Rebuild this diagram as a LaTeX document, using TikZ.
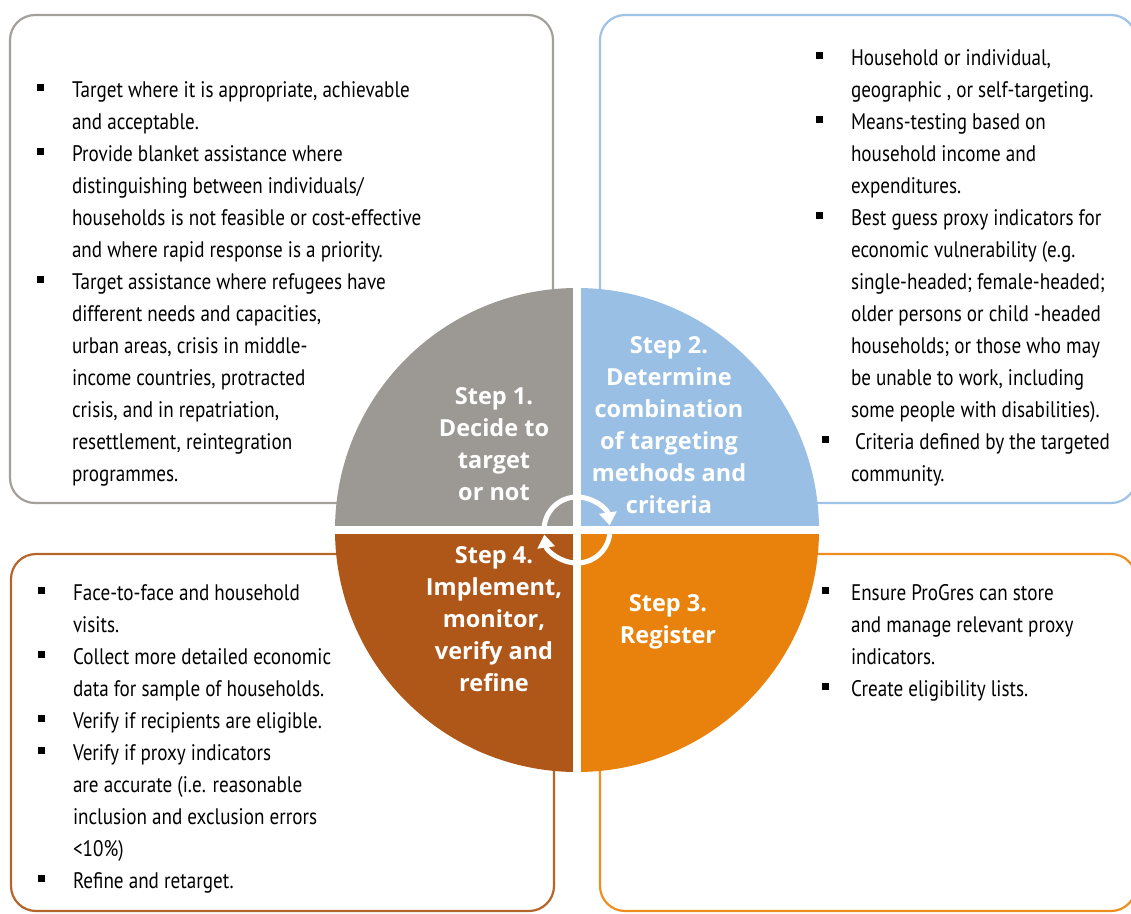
\documentclass[tikz,border=0pt]{standalone}
\usepackage{fontspec}
\setmainfont{PT Sans}
\newfontfamily\bodyfnt{PT Sans}[FakeStretch=0.85]
\newfontfamily\stepfnt{Open Sans}
\usetikzlibrary{arrows.meta}
\definecolor{qgray}{HTML}{9C9994}
\definecolor{qblue}{HTML}{99C0E4}
\definecolor{qorange}{HTML}{E8820C}
\definecolor{qbrown}{HTML}{AF5619}
\definecolor{lgray}{HTML}{A3A09B}
\definecolor{lblue}{HTML}{9DC3E6}
\definecolor{lorange}{HTML}{EE8E1E}
\definecolor{lbrown}{HTML}{B5652A}
\newcommand\bsq[1]{\leavevmode\llap{\rule[6.5pt]{7pt}{7pt}\hspace{#1}}}
\newcommand\bodylines[1]{\begin{minipage}[t]{480pt}\bodyfnt\fontsize{22.5}{32}\selectfont\raggedright\noindent #1\end{minipage}}
\newcommand\steplines[1]{\begin{minipage}[t]{220pt}\stepfnt\bfseries\fontsize{23.5}{32}\selectfont\centering #1\end{minipage}}
\tikzset{
  infobox/.style={line width=2.2pt, rounded corners=25pt},
  txt/.style={anchor=base west, inner sep=0pt, outer sep=0pt},
  steptxt/.style={anchor=base, inner sep=0pt, outer sep=0pt, text=white},
  cycarrow/.style={white, line width=5pt, -{Triangle[length=13pt,width=17pt]}}
}
\begin{document}
\begin{tikzpicture}[x=1pt,y=-1pt]
\useasboundingbox (0,0) rectangle (1131,913);
% boxes
\draw[infobox, lgray] (10,15) rectangle (553,503);
\draw[infobox, lblue] (600,15) rectangle (1136,503);
\draw[infobox, lbrown] (11,554) rectangle (554,911);
\draw[infobox, lorange] (600,554) rectangle (1136,911);
% circle quadrants
\coordinate (c) at (577,530);
\begin{scope}\clip (300,250) rectangle (577,530); \fill[qgray] (c) circle[radius=242pt]; \end{scope}
\begin{scope}\clip (577,250) rectangle (860,530); \fill[qblue] (c) circle[radius=242pt]; \end{scope}
\begin{scope}\clip (577,530) rectangle (860,800); \fill[qorange] (c) circle[radius=242pt]; \end{scope}
\begin{scope}\clip (300,530) rectangle (577,800); \fill[qbrown] (c) circle[radius=242pt]; \end{scope}
\draw[white, line width=8pt] (577,280) -- (577,780);
\draw[white, line width=8pt] (325,530) -- (830,530);
% cycle arrows
\draw[cycarrow] (c) ++(180:33pt) arc[start angle=180, end angle=8, radius=33pt];
\draw[cycarrow] (c) ++(0:33pt) arc[start angle=0, end angle=-172, radius=33pt];
% step labels
\node[steptxt] (s1) at (494,404) {\steplines{Step 1.\\Decide to\\target\\or not}};
\node[steptxt] (s2) at (669,353) {\steplines{Step 2.\\Determine\\combination\\of targeting\\methods and\\criteria}};
\node[steptxt] (s3) at (668,611) {\steplines{Step 3.\\Register}};
\node[steptxt] (s4) at (494,563) {\steplines{Step 4.\\Implement,\\monitor,\\verify and\\refine}};
% texts
\node[txt] (tl) at (72,97) {\bodylines{%
\bsq{28pt}Target where it is appropriate, achievable\\
and acceptable.\\
\bsq{28pt}Provide blanket assistance where\\
distinguishing between individuals/\\
households is not feasible or cost-effective\\
and where rapid response is a priority.\\
\bsq{28pt}Target assistance where refugees have\\
different needs and capacities,\\
urban areas, crisis in middle-\\
income countries, protracted\\
crisis, and in repatriation,\\
resettlement, reintegration\\
programmes.}};
\node[txt] (tr) at (851,65) {\bodylines{%
\bsq{28pt}Household or individual,\\
geographic , or self-targeting.\\
\bsq{28pt}Means-testing based on\\
household income and\\
expenditures.\\
\bsq{28pt}Best guess proxy indicators for\\
economic vulnerability (e.g.\\
single-headed; female-headed;\\
older persons or child -headed\\
households; or those who may\\
be unable to work, including\\
some people with disabilities).\\
\bsq{22pt}\hspace{4pt}Criteria defined by the targeted\\
community.}};
\node[txt] (bl) at (73,600) {\bodylines{%
\bsq{28pt}Face-to-face and household\\
visits.\\
\bsq{28pt}Collect more detailed economic\\
data for sample of households.\\
\bsq{28pt}Verify if recipients are eligible.\\
\bsq{28pt}Verify if proxy indicators\\
are accurate (i.e. reasonable\\
inclusion and exclusion errors\\
<10\%)\\
\bsq{28pt}Refine and retarget.}};
\node[txt] (br) at (851,600) {\bodylines{%
\bsq{22pt}Ensure ProGres can store\\
and manage relevant proxy\\
indicators.\\
\bsq{22pt}Create eligibility lists.}};
\end{tikzpicture}
\end{document}
